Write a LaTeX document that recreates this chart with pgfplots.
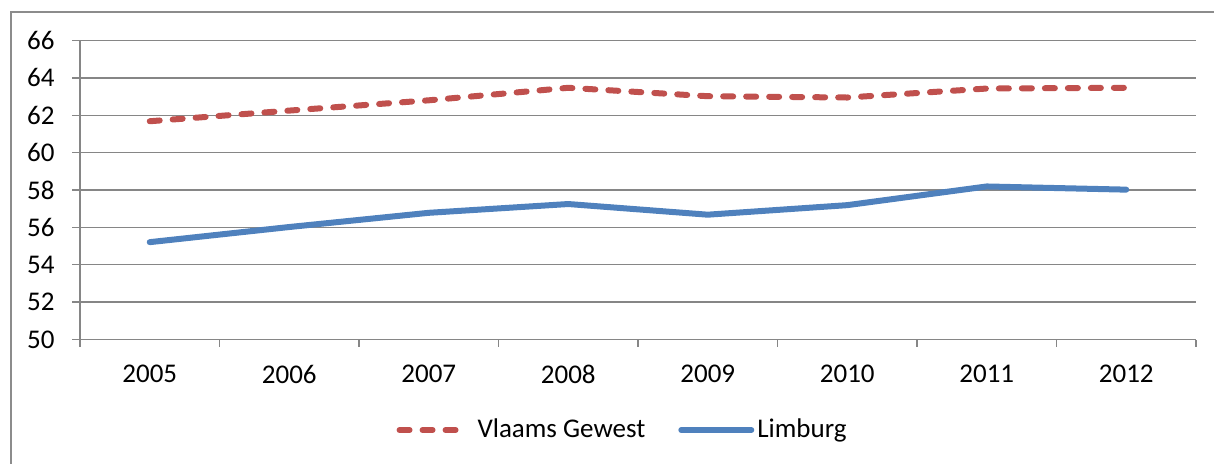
\documentclass[border=0pt]{standalone}
\usepackage{pgfplots}
\pgfplotsset{compat=1.18}
\usepackage{fontspec}
\setmainfont{Carlito}
\definecolor{vgred}{HTML}{C0504D}
\definecolor{limblue}{HTML}{4F81BD}
\definecolor{gridgray}{HTML}{868686}
\definecolor{framegray}{HTML}{8C8C8C}
\pgfplotsset{
  leg red/.style={legend image code/.code={\draw[##1] (0pt,0pt) -- (31pt,0pt); \path (36pt,0pt);}},
  leg blue/.style={legend image code/.code={\draw[##1] (0pt,0pt) -- (35pt,0pt);}},
}
\begin{document}
\fontsize{13.5pt}{16pt}\selectfont
\begin{tikzpicture}
\useasboundingbox (0pt,0pt) rectangle (607pt,-231.5pt);
\draw[framegray, line width=0.7pt] (5.5pt,-240pt) -- (5.5pt,-6pt) -- (615pt,-6pt);
\begin{axis}[
  scale only axis,
  width=558pt, height=149.5pt,
  at={(40pt,-169.75pt)}, anchor=south west,
  xmin=0.5, xmax=8.5, ymin=50, ymax=66,
  xtick={1,...,8},
  xticklabels={2005,2006,2007,2008,2009,2010,2011,2012},
  minor xtick={0.5,1.5,...,8.5},
  ytick={50,52,...,66},
  axis x line*=bottom, axis y line*=left,
  axis line style={gridgray, line width=0.65pt},
  tick align=outside,
  major tick length=4pt,
  minor tick length=3.5pt,
  every major x tick/.style={draw=none},
  every tick/.style={gridgray, line width=0.65pt},
  ymajorgrids,
  major grid style={gridgray, line width=0.65pt},
  /pgf/number format/assume math mode=true,
  ticklabel style={font=\fontsize{13.5pt}{16pt}\selectfont},
  yticklabel style={anchor=east, inner sep=0pt, xshift=-8.5pt},
  xticklabel style={anchor=north, inner sep=0pt, yshift=-8.5pt},
  legend style={at={(0.4866,-0.3027)}, anchor=center, draw=none, fill=none,
    font=\fontsize{13.5pt}{16pt}\selectfont,
    legend columns=2,
    /tikz/every even column/.append style={column sep=15pt},
    nodes={inner sep=1.5pt}},
  legend cell align=left,
]
\addplot[vgred, line width=3pt, line cap=round, dash pattern=on 5pt off 6.5pt, leg red]
  coordinates {(1,61.68) (2,62.25) (3,62.80) (4,63.47) (5,63.02) (6,62.95) (7,63.43) (8,63.47)};
\addlegendentry{Vlaams Gewest}
\addplot[limblue, line width=3pt, line cap=round, line join=round, leg blue]
  coordinates {(1,55.21) (2,56.02) (3,56.78) (4,57.25) (5,56.68) (6,57.19) (7,58.19) (8,58.02)};
\addlegendentry{Limburg}
\end{axis}
\end{tikzpicture}
\end{document}
